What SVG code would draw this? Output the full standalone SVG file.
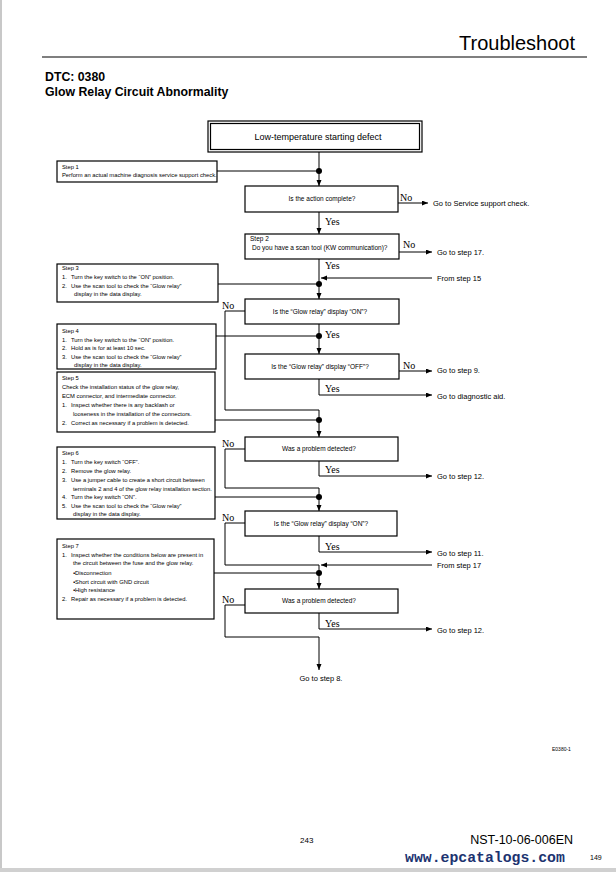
<svg xmlns="http://www.w3.org/2000/svg" width="616" height="872" viewBox="0 0 616 872">
<style>
.box{fill:#fff;stroke:#000;stroke-width:1.2}
.ln{fill:none;stroke:#000;stroke-width:1}
.dot{fill:#000}
.st{font-family:"Liberation Sans",Arial,"DejaVu Sans",sans-serif;font-size:5.8px;fill:#000}
.q{font-family:"Liberation Sans",Arial,sans-serif;font-size:6.5px;fill:#000}
.go{font-family:"Liberation Sans",Arial,sans-serif;font-size:7.5px;fill:#000}
.yn{font-family:"Liberation Serif","Times New Roman",serif;font-size:10px;fill:#000}
.hd{font-family:"Liberation Sans",Arial,sans-serif;font-weight:bold;font-size:12.3px;fill:#000}
</style>
<defs>
<marker id="ah" markerUnits="userSpaceOnUse" markerWidth="7" markerHeight="6" refX="6" refY="2.5" orient="auto">
<path d="M0,0 L6,2.5 L0,5 z" fill="#000"/>
</marker>
</defs>
<rect width="616" height="872" fill="#fff"/>
<rect x="0" y="0" width="2" height="872" fill="#c8c8c8"/>
<rect x="0" y="868" width="616" height="4" fill="#d0d0d0"/>

<g id="header">
<text x="575" y="50" text-anchor="end" font-family="'Liberation Sans',Arial,sans-serif" font-size="20">Troubleshoot</text>
<line x1="42" y1="57" x2="587" y2="57" stroke="#000" stroke-width="1.2"/>
<text class="hd" x="45" y="81">DTC: 0380</text>
<text class="hd" x="45" y="96">Glow Relay Circuit Abnormality</text>
</g>

<g id="start">
<rect class="box" x="208" y="121" width="214" height="31"/>
<rect class="box" x="210.5" y="123.5" width="209" height="26" stroke-width="1"/>
<text x="318" y="140" text-anchor="middle" font-family="'Liberation Sans',Arial,sans-serif" font-size="9">Low-temperature starting defect</text>
</g>

<g id="step1">
<rect class="box" x="57" y="161" width="160" height="21"/>
<text class="st" x="62" y="169">Step 1</text>
<text class="st" x="62" y="177">Perform an actual machine diagnosis service support check.</text>
</g>

<g id="q1">
<rect class="box" x="245" y="186" width="153" height="26"/>
<text class="q" x="322" y="201" text-anchor="middle">Is the action complete?</text>
</g>

<g id="step2">
<rect class="box" x="245" y="234" width="154" height="25"/>
<text class="q" x="250" y="241">Step 2</text>
<text class="q" x="252" y="250">Do you have a scan tool (KW communication)?</text>
</g>

<g id="step3">
<rect class="box" x="57" y="264" width="161" height="38"/>
<text class="st" x="62" y="270">Step 3</text>
<text class="st" x="62" y="279">1.</text><text class="st" x="71" y="279">Turn the key switch to the “ON” position.</text>
<text class="st" x="62" y="288">2.</text><text class="st" x="71" y="288">Use the scan tool to check the “Glow relay”</text>
<text class="st" x="74" y="296">display in the data display.</text>
</g>

<g id="q3">
<rect class="box" x="245" y="299" width="154" height="25"/>
<text class="q" x="320" y="314" text-anchor="middle">Is the “Glow relay” display “ON”?</text>
</g>

<g id="step4">
<rect class="box" x="57" y="324" width="159" height="45"/>
<text class="st" x="62" y="333">Step 4</text>
<text class="st" x="62" y="342">1.</text><text class="st" x="71" y="342">Turn the key switch to the “ON” position.</text>
<text class="st" x="62" y="350">2.</text><text class="st" x="71" y="350">Hold as is for at least 10 sec.</text>
<text class="st" x="62" y="359">3.</text><text class="st" x="71" y="359">Use the scan tool to check the “Glow relay”</text>
<text class="st" x="74" y="367">display in the data display.</text>
</g>

<g id="q4">
<rect class="box" x="245" y="354" width="154" height="25"/>
<text class="q" x="320" y="369" text-anchor="middle">Is the “Glow relay” display “OFF”?</text>
</g>

<g id="step5">
<rect class="box" x="57" y="372" width="158" height="60"/>
<text class="st" x="62" y="380">Step 5</text>
<text class="st" x="62" y="389">Check the installation status of the glow relay,</text>
<text class="st" x="62" y="398">ECM connector, and intermediate connector.</text>
<text class="st" x="62" y="407">1.</text><text class="st" x="71" y="407">Inspect whether there is any backlash or</text>
<text class="st" x="73" y="416">looseness in the installation of the connectors.</text>
<text class="st" x="62" y="425">2.</text><text class="st" x="71" y="425">Correct as necessary if a problem is detected.</text>
</g>

<g id="q5">
<rect class="box" x="245" y="437" width="153" height="24"/>
<text class="q" x="319" y="451" text-anchor="middle">Was a problem detected?</text>
</g>

<g id="step6">
<rect class="box" x="57" y="447" width="158" height="72"/>
<text class="st" x="62" y="455">Step 6</text>
<text class="st" x="62" y="464">1.</text><text class="st" x="71" y="464">Turn the key switch “OFF”.</text>
<text class="st" x="62" y="473">2.</text><text class="st" x="71" y="473">Remove the glow relay.</text>
<text class="st" x="62" y="482">3.</text><text class="st" x="71" y="482">Use a jumper cable to create a short circuit between</text>
<text class="st" x="73" y="491">terminals 2 and 4 of the glow relay installation section.</text>
<text class="st" x="62" y="499">4.</text><text class="st" x="71" y="499">Turn the key switch “ON”.</text>
<text class="st" x="62" y="508">5.</text><text class="st" x="71" y="508">Use the scan tool to check the “Glow relay”</text>
<text class="st" x="73" y="516">display in the data display.</text>
</g>

<g id="q6">
<rect class="box" x="245" y="511" width="152" height="25"/>
<text class="q" x="321" y="526" text-anchor="middle">Is the “Glow relay” display “ON”?</text>
</g>

<g id="step7">
<rect class="box" x="57" y="539" width="157" height="80"/>
<text class="st" x="62" y="548">Step 7</text>
<text class="st" x="62" y="557">1.</text><text class="st" x="71" y="557">Inspect whether the conditions below are present in</text>
<text class="st" x="73" y="565">the circuit between the fuse and the glow relay.</text>
<text class="st" x="73" y="575">▪Disconnection</text>
<text class="st" x="73" y="584">▪Short circuit with GND circuit</text>
<text class="st" x="73" y="592">▪High resistance</text>
<text class="st" x="62" y="601">2.</text><text class="st" x="71" y="601">Repair as necessary if a problem is detected.</text>
</g>

<g id="q7">
<rect class="box" x="245" y="589" width="153" height="24"/>
<text class="q" x="319" y="603" text-anchor="middle">Was a problem detected?</text>
</g>

<g id="connectors">
<path class="ln" d="M319,152 V186" marker-end="url(#ah)"/>
<path class="ln" d="M217,171 H319"/>
<circle class="dot" cx="319" cy="171" r="3"/>
<path class="ln" d="M398,203 H428" marker-end="url(#ah)"/>
<path class="ln" d="M319,212 V234" marker-end="url(#ah)"/>
<path class="ln" d="M399,252 H432" marker-end="url(#ah)"/>
<path class="ln" d="M319,259 V299" marker-end="url(#ah)"/>
<path class="ln" d="M432,278 H321" marker-end="url(#ah)"/>
<path class="ln" d="M218,284 H319"/>
<circle class="dot" cx="319" cy="284" r="3"/>
<path class="ln" d="M245,311 H225 V410 H319 V437" marker-end="url(#ah)"/>
<path class="ln" d="M319,324 V354" marker-end="url(#ah)"/>
<path class="ln" d="M216,336 H319"/>
<circle class="dot" cx="319" cy="336" r="3"/>
<path class="ln" d="M399,371 H432" marker-end="url(#ah)"/>
<path class="ln" d="M319,379 V395 H432" marker-end="url(#ah)"/>
<path class="ln" d="M215,420 H319"/>
<circle class="dot" cx="319" cy="420" r="3"/>
<path class="ln" d="M245,449 H225 V488 H319 V511" marker-end="url(#ah)"/>
<path class="ln" d="M319,461 V476 H432" marker-end="url(#ah)"/>
<path class="ln" d="M215,497 H319"/>
<circle class="dot" cx="319" cy="497" r="3"/>
<path class="ln" d="M245,523 H225 V565 H319 V589" marker-end="url(#ah)"/>
<path class="ln" d="M319,536 V552 H432" marker-end="url(#ah)"/>
<path class="ln" d="M432,565 H321" marker-end="url(#ah)"/>
<path class="ln" d="M214,573 H319"/>
<circle class="dot" cx="319" cy="573" r="3"/>
<path class="ln" d="M245,605 H225 V637 H319 V670" marker-end="url(#ah)"/>
<path class="ln" d="M319,613 V629 H432" marker-end="url(#ah)"/>
</g>

<g id="labels">
<text class="yn" x="400" y="201">No</text>
<text class="yn" x="325" y="225">Yes</text>
<text class="yn" x="403" y="248">No</text>
<text class="yn" x="325" y="269">Yes</text>
<text class="yn" x="222" y="309">No</text>
<text class="yn" x="325" y="338">Yes</text>
<text class="yn" x="403" y="369">No</text>
<text class="yn" x="325" y="392">Yes</text>
<text class="yn" x="222" y="447">No</text>
<text class="yn" x="325" y="473">Yes</text>
<text class="yn" x="222" y="521">No</text>
<text class="yn" x="325" y="550">Yes</text>
<text class="yn" x="222" y="603">No</text>
<text class="yn" x="325" y="627">Yes</text>
<text class="go" x="433" y="206">Go to Service support check.</text>
<text class="go" x="437" y="255">Go to step 17.</text>
<text class="go" x="437" y="281">From step 15</text>
<text class="go" x="437" y="373">Go to step 9.</text>
<text class="go" x="437" y="399">Go to diagnostic aid.</text>
<text class="go" x="437" y="479">Go to step 12.</text>
<text class="go" x="437" y="556">Go to step 11.</text>
<text class="go" x="437" y="568">From step 17</text>
<text class="go" x="437" y="633">Go to step 12.</text>
<text class="go" x="321" y="681" text-anchor="middle">Go to step 8.</text>
</g>

<g id="footer">
<text x="552" y="751" font-family="'Liberation Sans',Arial,sans-serif" font-size="5">E0380-1</text>
<text x="300" y="843" font-family="'Liberation Sans',Arial,sans-serif" font-size="8">243</text>
<text x="573" y="844" text-anchor="end" font-family="'Liberation Sans',Arial,sans-serif" font-size="12.5">NST-10-06-006EN</text>
<text x="405" y="862" font-family="'Liberation Mono','Courier New',monospace" font-weight="bold" font-size="14.8" fill="#1c3370">www.epcatalogs.com</text>
<text x="590" y="860" font-family="'Liberation Sans',Arial,sans-serif" font-size="7">149</text>
</g>
</svg>
